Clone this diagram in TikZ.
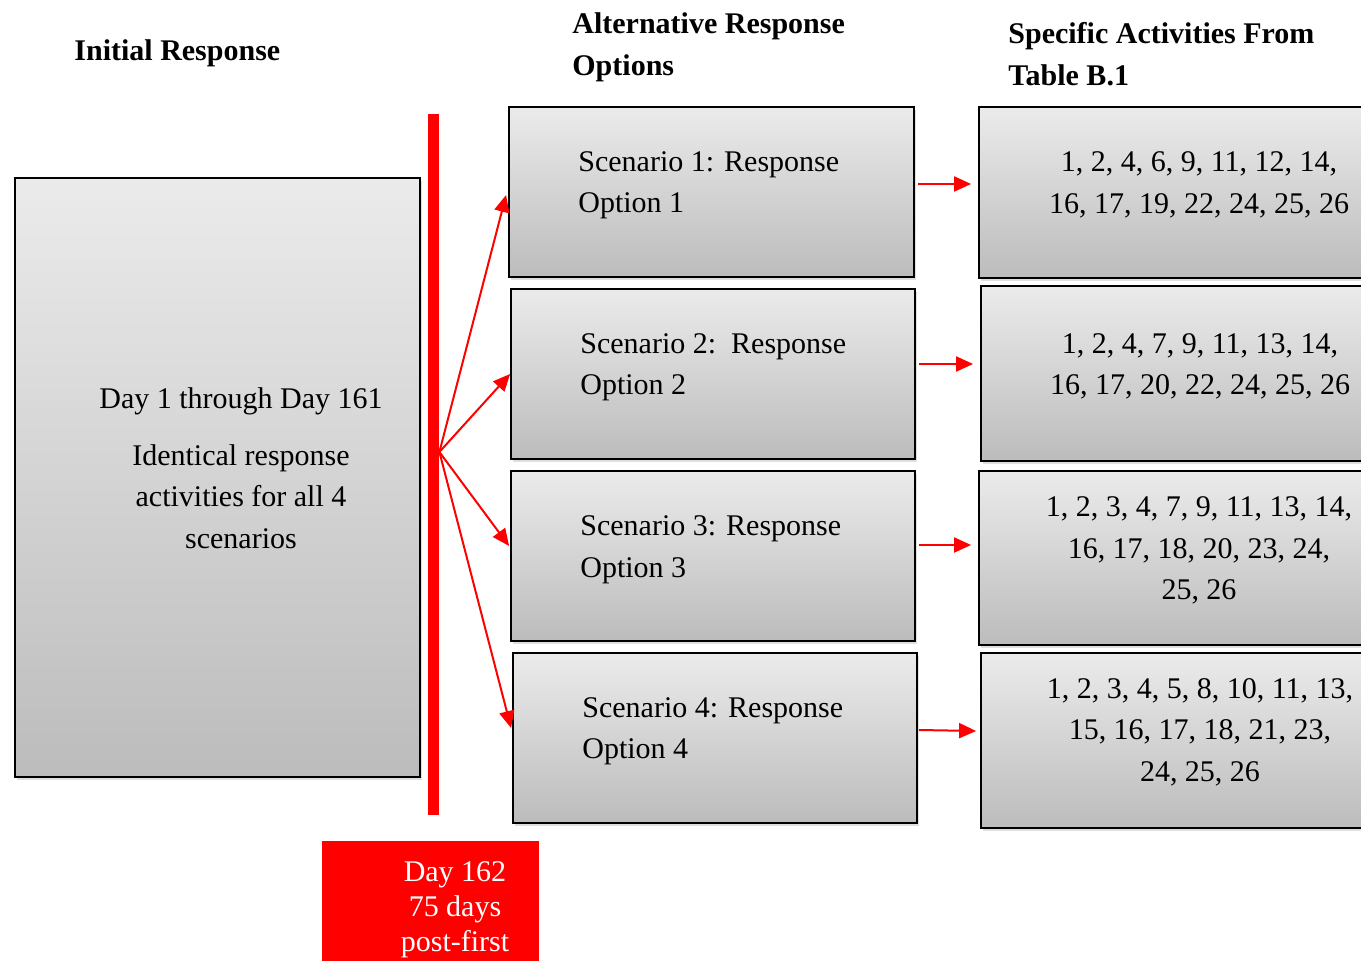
\documentclass[tikz,border=0pt]{standalone}
\usepackage{fontspec}
\setmainfont{Liberation Serif}
\usetikzlibrary{arrows.meta,shadows,calc}
\definecolor{boxtop}{HTML}{EBEBEB}
\definecolor{boxbot}{HTML}{BCBCBC}
\begin{document}
\begin{tikzpicture}[x=0.5pt,y=-0.5pt,
  gbox/.style={draw=black, line width=0.9pt, top color=boxtop, bottom color=boxbot, rectangle, inner sep=0pt,
    drop shadow={shadow xshift=1.2pt, shadow yshift=-1.5pt, opacity=0.25}},
  txt/.style={font=\fontsize{15pt}{20.75pt}\selectfont, inner sep=0pt},
  head/.style={font=\fontsize{15pt}{21pt}\selectfont\bfseries, inner sep=0pt, anchor=west, align=left},
  arr/.style={red, line width=1pt, -{Triangle[length=8.5pt,width=7.5pt]}},
]
\useasboundingbox (0,0) rectangle (1361,961);
\clip (0,0) rectangle (1361,961);

% headings
\node[head] (h1) at (74,53) {Initial Response};
\node[head] (h2) at (572,47.5) {Alternative Response\\Options};
\node[head] (h3) at (1008,54) {Specific Activities From\\Table B.1};

% initial box
\node[gbox, minimum width=202.5pt, minimum height=299.5pt] (init) at (217.5,477.5) {};
\node[txt, align=center] (inittxt) at (241,468) {Day 1 through Day 161\\[7.75pt]Identical response\\activities for all 4\\scenarios};

% red bar
\node[fill=red, inner sep=0pt, minimum width=5.5pt, minimum height=350.5pt] (bar) at (433.5,464.5) {};
\coordinate (fan) at ($(bar.east)+(0,-12.5)$);

% red day box
\node[fill=red, inner sep=0pt, minimum width=108.5pt, minimum height=69.5pt] (day) at (430.5,910.5) {};
\node[txt, white, align=center, font=\fontsize{15pt}{17.5pt}\selectfont] (daytxt) at (455,910) {Day 162\\75 days\\post-first};

% scenario boxes
\node[gbox, minimum width=202.5pt, minimum height=85pt] (s1) at (711.5,192) {};
\node[gbox, minimum width=202pt, minimum height=85pt] (s2) at (713,374) {};
\node[gbox, minimum width=202pt, minimum height=85pt] (s3) at (713,556) {};
\node[gbox, minimum width=202pt, minimum height=85pt] (s4) at (715,738) {};
\node[txt, anchor=west, align=left] (s1t) at (578,185.5) {Scenario 1: Response\\Option 1};
\node[txt, anchor=west, align=left] (s2t) at (580,367.5) {Scenario 2:\ \ Response\\Option 2};
\node[txt, anchor=west, align=left] (s3t) at (580,550) {Scenario 3: Response\\Option 3};
\node[txt, anchor=west, align=left] (s4t) at (582,731.5) {Scenario 4: Response\\Option 4};

% activity boxes
\node[gbox, minimum width=220.5pt, minimum height=85.5pt] (a1) at (1199.5,192.5) {};
\node[gbox, minimum width=219.5pt, minimum height=87.5pt] (a2) at (1200.5,373.5) {};
\node[gbox, minimum width=220.5pt, minimum height=87pt] (a3) at (1199.5,558) {};
\node[gbox, minimum width=219.5pt, minimum height=87.5pt] (a4) at (1200.5,740.5) {};
\node[txt, align=center] (a1t) at (1199,185) {1, 2, 4, 6, 9, 11, 12, 14,\\16, 17, 19, 22, 24, 25, 26};
\node[txt, align=center] (a2t) at (1200,366.5) {1, 2, 4, 7, 9, 11, 13, 14,\\16, 17, 20, 22, 24, 25, 26};
\node[txt, align=center] (a3t) at (1199,550.5) {1, 2, 3, 4, 7, 9, 11, 13, 14,\\16, 17, 18, 20, 23, 24,\\25, 26};
\node[txt, align=center] (a4t) at (1200,732) {1, 2, 3, 4, 5, 8, 10, 11, 13,\\15, 16, 17, 18, 21, 23,\\24, 25, 26};

% fan arrows
\draw[arr] (fan) -- ($(s1.west)+(-2,3)$);
\draw[arr] (fan) -- (s2.west);
\draw[arr] (fan) -- ($(s3.west)+(-1,-10)$);
\draw[arr] (fan) -- ($(s4.west)+(-1,-10)$);

% right arrows
\draw[arr] ($(s1.east)+(3,-8)$) -- ($(a1.west)+(-7,-8.5)$);
\draw[arr] ($(s2.east)+(3,-10)$) -- ($(a2.west)+(-7,-9.5)$);
\draw[arr] ($(s3.east)+(3,-11)$) -- ($(a3.west)+(-7,-13)$);
\draw[arr] ($(s4.east)+(1,-8)$) -- ($(a4.west)+(-4,-9.5)$);
\end{tikzpicture}
\end{document}
